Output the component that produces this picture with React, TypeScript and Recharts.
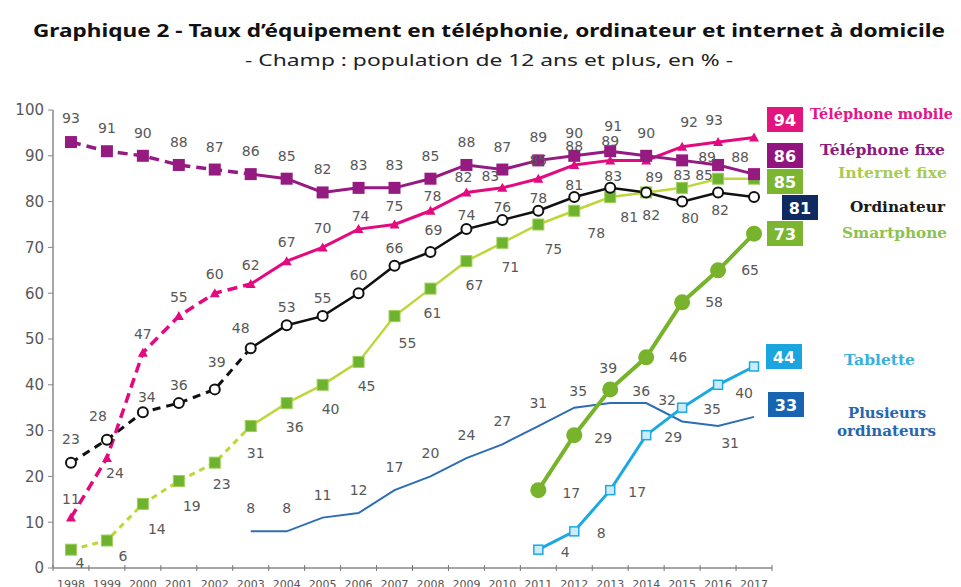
import React from 'react';
import { LineChart, Line, XAxis, YAxis, LabelList } from 'recharts';

const years = ['1998', '1999', '2000', '2001', '2002', '2003', '2004', '2005', '2006', '2007', '2008', '2009', '2010', '2011', '2012', '2013', '2014', '2015', '2016', '2017'];
const telMobile = [11, 24, 47, 55, 60, 62, 67, 70, 74, 75, 78, 82, 83, 85, 88, 89, 89, 92, 93, 94];
const telFixe = [93, 91, 90, 88, 87, 86, 85, 82, 83, 83, 85, 88, 87, 89, 90, 91, 90, 89, 88, 86];
const ordinateur = [23, 28, 34, 36, 39, 48, 53, 55, 60, 66, 69, 74, 76, 78, 81, 83, 82, 80, 82, 81];
const internetFixe = [4, 6, 14, 19, 23, 31, 36, 40, 45, 55, 61, 67, 71, 75, 78, 81, 82, 83, 85, 85];
const smartphone = [null, null, null, null, null, null, null, null, null, null, null, null, null, 17, 29, 39, 46, 58, 65, 73];
const tablette = [null, null, null, null, null, null, null, null, null, null, null, null, null, 4, 8, 17, 29, 35, 40, 44];
const plusieursOrdis = [null, null, null, null, null, 8, 8, 11, 12, 17, 20, 24, 27, 31, 35, 36, 36, 32, 31, 33];
const yTicks = [0, 10, 20, 30, 40, 50, 60, 70, 80, 90, 100];
// last year of the dashed part of the older series
const lastDashedYear = '2003';

const W = 961;
const H = 587;
const M = { top: 110, right: 189, bottom: 0, left: 0 };
const Y_AXIS_W = 53;
const X_AXIS_H = 19;
const BAND = (W - M.right - Y_AXIS_W) / years.length;

const dashIdx = years.indexOf(lastDashedYear);
const data = years.map((year, i) => ({
  year,
  mobile: telMobile[i],
  mobileDash: i <= dashIdx ? telMobile[i] : null,
  mobileSolid: i >= dashIdx ? telMobile[i] : null,
  fixe: telFixe[i],
  fixeDash: i <= dashIdx ? telFixe[i] : null,
  fixeSolid: i >= dashIdx ? telFixe[i] : null,
  ordi: ordinateur[i],
  ordiDash: i <= dashIdx ? ordinateur[i] : null,
  ordiSolid: i >= dashIdx ? ordinateur[i] : null,
  internet: internetFixe[i],
  internetDash: i <= dashIdx ? internetFixe[i] : null,
  internetSolid: i >= dashIdx ? internetFixe[i] : null,
  smart: smartphone[i],
  tab: tablette[i],
  plus: plusieursOrdis[i],
}));

// label placement (offset from the point), per series, with a few exceptions
type Place = { def: [number, number]; at: Record<string, [number, number]>; skip: string[] };
const placement: Record<string, Place> = {
  fixe: { def: [0, -23], at: { '1998': [0, -24], '2013': [3, -25], '2015': [25, -3], '2016': [22, -8] }, skip: ['2017'] },
  mobile: {
    def: [0, -19],
    at: { '1999': [8, 15], '2006': [2, -13], '2008': [2, -15], '2009': [-3, -15], '2010': [-12, -12], '2014': [8, 17], '2015': [7, -25], '2016': [-4, -22] },
    skip: ['2017'],
  },
  ordi: {
    def: [0, -18],
    at: { '1998': [0, -24], '1999': [-9, -24], '2000': [4, -15], '2002': [2, -27], '2003': [-10, -20], '2008': [3, -22], '2009': [0, -14], '2010': [0, -13], '2011': [0, -13], '2012': [0, -12], '2013': [3, -12], '2015': [8, 16], '2016': [2, 18] },
    skip: ['2014', '2017'],
  },
  internet: {
    def: [8, 24],
    at: { '1998': [9, 13], '1999': [16, 15], '2000': [14, 25], '2001': [13, 25], '2002': [7, 21], '2003': [5, 27], '2007': [13, 27], '2008': [2, 24], '2011': [15, 24], '2012': [22, 22], '2013': [19, 20], '2014': [5, 23], '2015': [0, -13], '2016': [-14, -4] },
    skip: ['2017'],
  },
  smart: { def: [32, 0], at: { '2011': [33, 3], '2012': [29, 3], '2013': [-2, -21] }, skip: ['2017'] },
  tab: { def: [27, 2], at: { '2015': [30, 1], '2016': [26, 8] }, skip: ['2017'] },
  plus: { def: [0, -23], at: { '2012': [4, -17], '2014': [-5, -12], '2015': [-15, -21], '2016': [12, 17] }, skip: ['2013', '2017'] },
};

const makeLabel = (key: string) => (props: any) => {
  const { x, y, value, index } = props;
  if (value == null || x == null || y == null) return null;
  const p = placement[key];
  const yr = years[index];
  if (p.skip.includes(yr)) return null;
  const [dx, dy] = p.at[yr] ?? p.def;
  return (
    <text x={x + dx} y={y + dy} textAnchor="middle" dominantBaseline="central" fontSize={14} fill="#585858" fontFamily="DejaVu Sans, Verdana, sans-serif">
      {value}
    </text>
  );
};

const triangleDot = (color: string) => (props: any) => {
  const { cx, cy, index } = props;
  if (cx == null || cy == null || props.value == null) return <g key={index} />;
  return <path key={index} d={`M${cx},${cy - 5} L${cx + 5},${cy + 4} L${cx - 5},${cy + 4} Z`} fill={color} />;
};

const squareDot = (size: number, fill: string, stroke: string, sw: number) => (props: any) => {
  const { cx, cy, index } = props;
  if (cx == null || cy == null || props.value == null) return <g key={index} />;
  return <rect key={index} x={cx - size / 2} y={cy - size / 2} width={size} height={size} fill={fill} stroke={stroke} strokeWidth={sw} />;
};

const circleDot = (r: number, fill: string, stroke: string, sw: number) => (props: any) => {
  const { cx, cy, index } = props;
  if (cx == null || cy == null || props.value == null) return <g key={index} />;
  return <circle key={index} cx={cx} cy={cy} r={r} fill={fill} stroke={stroke} strokeWidth={sw} />;
};

const YearTick = (props: any) => {
  const { x, y, payload, index } = props;
  const last = index === years.length - 1;
  return (
    <g>
      <line x1={x - BAND / 2} x2={x - BAND / 2} y1={y - 3} y2={y + 3} stroke="#777" strokeWidth={1} />
      {last && <line x1={x + BAND / 2} x2={x + BAND / 2} y1={y - 3} y2={y + 3} stroke="#777" strokeWidth={1} />}
      <text x={x} y={y + 20} textAnchor="middle" fontSize={11} fill="#555" fontFamily="DejaVu Sans, Verdana, sans-serif">
        {payload.value}
      </text>
    </g>
  );
};

const legendBoxes = [
  { value: telMobile[telMobile.length - 1], color: '#e2157f', x: 767, y: 107 },
  { value: telFixe[telFixe.length - 1], color: '#92157f', x: 767, y: 143 },
  { value: internetFixe[internetFixe.length - 1], color: '#7cb52f', x: 767, y: 169 },
  { value: ordinateur[ordinateur.length - 1], color: '#0e2a61', x: 782, y: 195 },
  { value: smartphone[smartphone.length - 1], color: '#7cb52f', x: 767, y: 221 },
  { value: tablette[tablette.length - 1], color: '#1aa5de', x: 766, y: 344 },
  { value: plusieursOrdis[plusieursOrdis.length - 1], color: '#1765b0', x: 768, y: 392 },
];

const legendTexts = [
  { text: 'Téléphone mobile', color: '#e2178a', x: 810, y: 119, w: 143 },
  { text: 'Téléphone fixe', color: '#8b1a7e', x: 820, y: 155, w: 125 },
  { text: 'Internet fixe', color: '#a9cb54', x: 838, y: 178, w: 109 },
  { text: 'Ordinateur', color: '#1a1a1a', x: 850, y: 212, w: 95 },
  { text: 'Smartphone', color: '#8dc150', x: 842, y: 238, w: 105 },
  { text: 'Tablette', color: '#38b0de', x: 844, y: 365, w: 71 },
  { text: 'Plusieurs', color: '#2766b0', x: 848, y: 418, w: 78 },
  { text: 'ordinateurs', color: '#2766b0', x: 837, y: 436, w: 99 },
];

export default function App() {
  return (
    <div style={{ position: 'absolute', left: 0, top: 0, width: W, height: H, background: '#fff', overflow: 'hidden' }}>
      <LineChart width={W} height={H} data={data} margin={M}>
        <XAxis
          dataKey="year"
          height={X_AXIS_H}
          padding={{ left: BAND / 2, right: BAND / 2 }}
          axisLine={{ stroke: '#888', strokeWidth: 1.5 }}
          tickLine={false}
          tickSize={0}
          tickMargin={0}
          interval={0}
          tick={<YearTick />}
        />
        <YAxis
          width={Y_AXIS_W}
          domain={[0, 100]}
          ticks={yTicks}
          interval={0}
          axisLine={{ stroke: '#888', strokeWidth: 1.5 }}
          tickLine={{ stroke: '#888' }}
          tickSize={5}
          tickMargin={4}
          tick={{ fontSize: 15, fill: '#585858', fontFamily: 'DejaVu Sans, Verdana, sans-serif' }}
        />

        {/* strokes */}
        <Line dataKey="plus" stroke="#2d6db5" strokeWidth={2} dot={false} activeDot={false} isAnimationActive={false} />
        <Line dataKey="internetDash" stroke="#bdd739" strokeWidth={3} strokeDasharray="6 5" dot={false} activeDot={false} isAnimationActive={false} />
        <Line dataKey="internetSolid" stroke="#bdd739" strokeWidth={2.5} dot={false} activeDot={false} isAnimationActive={false} />
        <Line dataKey="ordiDash" stroke="#111" strokeWidth={3} strokeDasharray="8 6" dot={false} activeDot={false} isAnimationActive={false} />
        <Line dataKey="ordiSolid" stroke="#111" strokeWidth={2.5} dot={false} activeDot={false} isAnimationActive={false} />
        <Line dataKey="mobileDash" stroke="#e5097f" strokeWidth={3.5} strokeDasharray="10 6" dot={false} activeDot={false} isAnimationActive={false} />
        <Line dataKey="mobileSolid" stroke="#e5097f" strokeWidth={3} dot={false} activeDot={false} isAnimationActive={false} />
        <Line dataKey="fixeDash" stroke="#951b81" strokeWidth={3.5} strokeDasharray="10 6" dot={false} activeDot={false} isAnimationActive={false} />
        <Line dataKey="fixeSolid" stroke="#951b81" strokeWidth={3} dot={false} activeDot={false} isAnimationActive={false} />
        <Line dataKey="tab" stroke="#1ca9e1" strokeWidth={3} dot={false} activeDot={false} isAnimationActive={false} />
        <Line dataKey="smart" stroke="#77b32b" strokeWidth={4} dot={false} activeDot={false} isAnimationActive={false} />

        {/* markers and value labels */}
        <Line dataKey="plus" stroke="none" dot={false} activeDot={false} isAnimationActive={false}>
          <LabelList dataKey="plus" content={makeLabel('plus')} />
        </Line>
        <Line dataKey="internet" stroke="none" dot={squareDot(11, '#6db32d', '#9fcf5a', 1)} activeDot={false} isAnimationActive={false}>
          <LabelList dataKey="internet" content={makeLabel('internet')} />
        </Line>
        <Line dataKey="ordi" stroke="none" dot={circleDot(5, '#fff', '#111', 2)} activeDot={false} isAnimationActive={false}>
          <LabelList dataKey="ordi" content={makeLabel('ordi')} />
        </Line>
        <Line dataKey="mobile" stroke="none" dot={triangleDot('#e5097f')} activeDot={false} isAnimationActive={false}>
          <LabelList dataKey="mobile" content={makeLabel('mobile')} />
        </Line>
        <Line dataKey="fixe" stroke="none" dot={squareDot(12, '#951b81', '#951b81', 0)} activeDot={false} isAnimationActive={false}>
          <LabelList dataKey="fixe" content={makeLabel('fixe')} />
        </Line>
        <Line dataKey="tab" stroke="none" dot={squareDot(9, '#cdebf8', '#1ca9e1', 1.5)} activeDot={false} isAnimationActive={false}>
          <LabelList dataKey="tab" content={makeLabel('tab')} />
        </Line>
        <Line dataKey="smart" stroke="none" dot={circleDot(8, '#77b32b', '#77b32b', 0)} activeDot={false} isAnimationActive={false}>
          <LabelList dataKey="smart" content={makeLabel('smart')} />
        </Line>
      </LineChart>

      <svg width={W} height={H} style={{ position: 'absolute', left: 0, top: 0, pointerEvents: 'none' }}>
        <text x={489} y={37} textAnchor="middle" fontSize={17} fontWeight="bold" fill="#111" fontFamily="Noto Sans, sans-serif" textLength={912} lengthAdjust="spacingAndGlyphs">
          Graphique 2 - Taux d’équipement en téléphonie, ordinateur et internet à domicile
        </text>
        <text x={489} y={66} textAnchor="middle" fontSize={16} fill="#222" fontFamily="Noto Sans, sans-serif" textLength={488} lengthAdjust="spacingAndGlyphs">
          - Champ : population de 12 ans et plus, en % -
        </text>
        {legendBoxes.map((b, i) => (
          <g key={i}>
            <rect x={b.x} y={b.y} width={36} height={25} fill={b.color} />
            <text x={b.x + 18} y={b.y + 13} textAnchor="middle" dominantBaseline="central" fontSize={16} fontWeight="bold" fill="#fff" fontFamily="DejaVu Sans, sans-serif">
              {b.value}
            </text>
          </g>
        ))}
        {legendTexts.map((t, i) => (
          <text key={i} x={t.x} y={t.y} fontSize={14} fontWeight="bold" fill={t.color} fontFamily="DejaVu Serif, serif" textLength={t.w} lengthAdjust="spacingAndGlyphs">
            {t.text}
          </text>
        ))}
      </svg>
    </div>
  );
}
